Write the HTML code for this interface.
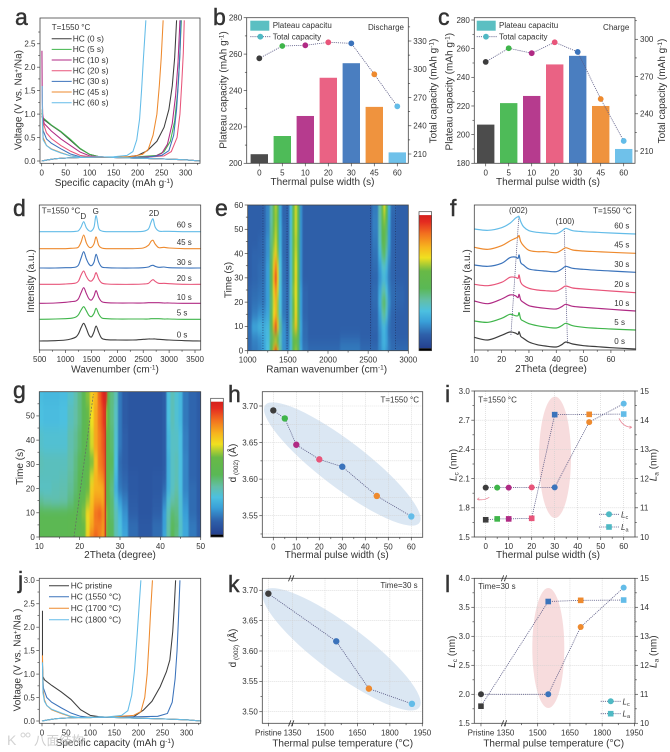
<!DOCTYPE html>
<html lang="en">
<head>
<meta charset="utf-8">
<title>Hard carbon thermal pulse figure</title>
<style>
html,body{margin:0;padding:0;background:#fff;}
svg{display:block;font-family:"Liberation Sans","Noto Sans CJK SC",sans-serif;filter:blur(.35px);}
text{fill:#333;}
.letter{font-size:23px;stroke:#333;stroke-width:.45px;}
.title{font-size:10px;}
.small{font-size:8px;}
.mid{text-anchor:middle;}
.end{text-anchor:end;}
</style>
</head>
<body>
<svg id="figure" width="670" height="752" viewBox="0 0 670 752" xmlns="http://www.w3.org/2000/svg">
  <defs>
    <filter id="heat-blur" x="-10%" y="-25%" width="120%" height="150%" color-interpolation-filters="sRGB"><feGaussianBlur stdDeviation="0.9 5"/></filter>
    <clipPath id="clip-e"><rect x="247.7" y="205" width="160.6" height="145.7"/></clipPath>
    <clipPath id="clip-g"><rect x="39.3" y="391.7" width="161.4" height="145.3"/></clipPath>
  </defs>
  <g id="plots"></g>

  <g>
    <text class="letter" x="15" y="25">a</text>
    <text class="letter" x="213" y="25">b</text>
    <text class="letter" x="438" y="25">c</text>
    <text class="letter" x="13" y="216">d</text>
    <text class="letter" x="215" y="216">e</text>
    <text class="letter" x="450" y="216">f</text>
    <text class="letter" x="13" y="398">g</text>
    <text class="letter" x="228" y="402">h</text>
    <text class="letter" x="445" y="402">i</text>
    <text class="letter" x="18" y="588">j</text>
    <text class="letter" x="228" y="592">k</text>
    <text class="letter" x="445" y="592">l</text>
  </g>

  <g>
    <text class="title mid" x="114" y="186">Specific capacity (mAh g<tspan dy="-3" font-size="6.5">-1</tspan><tspan dy="3">)</tspan></text>
    <text class="title mid" transform="rotate(-90 21.5 100)" x="21.5" y="100">Voltage (V vs. Na<tspan dy="-3" font-size="6.5">+</tspan><tspan dy="3">/Na)</tspan></text>
    <text class="title mid" x="322.5" y="185">Thermal pulse width (s)</text>
    <text class="title mid" transform="rotate(-90 226.7 90)" x="226.7" y="90">Plateau capacity (mAh g<tspan dy="-3" font-size="6.5">-1</tspan><tspan dy="3">)</tspan></text>
    <text class="title mid" transform="rotate(-90 436.7 91)" x="436.7" y="91">Total capacity (mAh g<tspan dy="-3" font-size="6.5">-1</tspan><tspan dy="3">)</tspan></text>
    <text class="title mid" x="548" y="185">Thermal pulse width (s)</text>
    <text class="title mid" transform="rotate(-90 452.3 91.7)" x="452.3" y="91.7">Plateau capacity (mAh g<tspan dy="-3" font-size="6.5">-1</tspan><tspan dy="3">)</tspan></text>
    <text class="title mid" transform="rotate(-90 665 91)" x="665" y="91">Total capacity (mAh g<tspan dy="-3" font-size="6.5">-1</tspan><tspan dy="3">)</tspan></text>
    <text class="title mid" x="115" y="372.7">Wavenumber (cm<tspan dy="-3" font-size="6.5">-1</tspan><tspan dy="3">)</tspan></text>
    <text class="title mid" transform="rotate(-90 34 281)" x="34" y="281">Intensity (a.u.)</text>
    <text class="title mid" x="326.7" y="372.7">Raman wavenumber (cm<tspan dy="-3" font-size="6.5">-1</tspan><tspan dy="3">)</tspan></text>
    <text class="title mid" transform="rotate(-90 231.7 280)" x="231.7" y="280">Time (s)</text>
    <text class="title mid" x="551" y="372">2Theta (degree)</text>
    <text class="title mid" transform="rotate(-90 470 281)" x="470" y="281">Intensity (a.u.)</text>
    <text class="title mid" x="120" y="558">2Theta (degree)</text>
    <text class="title mid" transform="rotate(-90 23 466.7)" x="23" y="466.7">Time (s)</text>
    <text class="title mid" x="336.7" y="558">Thermal pulse width (s)</text>
    <text class="title mid" transform="rotate(-90 236 463)" x="236" y="463">d<tspan dy="2" font-size="6.5"> (002)</tspan><tspan dy="-2"> (Å)</tspan></text>
    <text class="title mid" x="548" y="558">Thermal pulse width (s)</text>
    <text class="title mid" transform="rotate(-90 456.7 465)" x="456.7" y="465"><tspan font-style="italic">L</tspan><tspan dy="2" font-size="6.5">c</tspan><tspan dy="-2"> (nm)</tspan></text>
    <text class="title mid" transform="rotate(-90 656.7 465)" x="656.7" y="465"><tspan font-style="italic">L</tspan><tspan dy="2" font-size="6.5">a</tspan><tspan dy="-2"> (nm)</tspan></text>
    <text class="title mid" x="115" y="746">Specific capacity (mAh g<tspan dy="-3" font-size="6.5">-1</tspan><tspan dy="3">)</tspan></text>
    <text class="title mid" transform="rotate(-90 20.7 660)" x="20.7" y="660">Voltage (V vs. Na<tspan dy="-3" font-size="6.5">+</tspan><tspan dy="3">/Na )</tspan></text>
    <text class="title mid" x="342.7" y="746.7">Thermal pulse temperature (°C)</text>
    <text class="title mid" transform="rotate(-90 236 648)" x="236" y="648">d<tspan dy="2" font-size="6.5"> (002)</tspan><tspan dy="-2"> (Å)</tspan></text>
    <text class="title mid" x="553.7" y="746.7">Thermal pulse temperature (°C)</text>
    <text class="title mid" transform="rotate(-90 455 651.7)" x="455" y="651.7"><tspan font-style="italic">L</tspan><tspan dy="2" font-size="6.5">c</tspan><tspan dy="-2"> (nm)</tspan></text>
    <text class="title mid" transform="rotate(-90 656.7 651.7)" x="656.7" y="651.7"><tspan font-style="italic">L</tspan><tspan dy="2" font-size="6.5">a</tspan><tspan dy="-2"> (nm)</tspan></text>
  </g>

  <g>
    <text class="small" x="51.7" y="30">T=1550 °C</text>
    <text class="small end" x="404" y="30">Discharge</text>
    <text class="small end" x="629.3" y="30">Charge</text>
    <text class="small" x="272.7" y="28">Plateau capacitu</text>
    <text class="small" x="272.7" y="39.5">Total capacity</text>
    <text class="small" x="499" y="28">Plateau capacitu</text>
    <text class="small" x="499" y="39.5">Total capacity</text>
    <text class="small" x="41.7" y="213.3">T=1550 °C</text>
    <text class="small mid" x="83.3" y="219">D</text>
    <text class="small mid" x="95.7" y="214">G</text>
    <text class="small mid" x="154" y="216">2D</text>
    <text class="small mid" x="518.3" y="213">(002)</text>
    <text class="small mid" x="565" y="224">(100)</text>
    <text class="small end" x="631.7" y="213.3">T=1550 °C</text>
    <text class="small end" x="419" y="402.3">T=1550 °C</text>
    <text class="small" x="478.3" y="402.3">T=1550 °C</text>
    <text class="small end" x="417.7" y="588">Time=30 s</text>
    <text class="small" x="478.3" y="589">Time=30 s</text>
    <text class="small" x="621" y="517.3"><tspan font-style="italic">L</tspan><tspan dy="1.5" font-size="5.5">c</tspan></text>
    <text class="small" x="621" y="530"><tspan font-style="italic">L</tspan><tspan dy="1.5" font-size="5.5">a</tspan></text>
    <text class="small" x="622.5" y="704.3"><tspan font-style="italic">L</tspan><tspan dy="1.5" font-size="5.5">c</tspan></text>
    <text class="small" x="622.5" y="716.7"><tspan font-style="italic">L</tspan><tspan dy="1.5" font-size="5.5">a</tspan></text>
    <path d="M489.3 497.3 Q483 501 477.3 499.3" fill="none" stroke="#e98a9a" stroke-width=".8"/>
    <path d="M477.3 499.3l2 -1.6M477.3 499.3l2.2 1" fill="none" stroke="#e98a9a" stroke-width=".8"/>
    <path d="M619 418.3 Q623 427 631.7 427.3" fill="none" stroke="#e98a9a" stroke-width=".8"/>
    <path d="M631.7 427.3l-2.2 -1.4M631.7 427.3l-2.2 1.2" fill="none" stroke="#e98a9a" stroke-width=".8"/>
  </g>

  <g opacity="0.75">
    <text x="7" y="745" font-size="14" style="fill:#c4c4c4">K</text>
    <circle cx="23" cy="735" r="2" fill="none" stroke="#c4c4c4"/>
    <circle cx="28" cy="735" r="2" fill="none" stroke="#c4c4c4"/>
    <text x="34" y="745" font-size="12.5" style="fill:#bdbdbd">八面结构</text>
  </g>
</svg>

<script>
/* ---------- shared categories ---------- */
const pulseCategories = ['0','5','10','20','30','45','60'];
const pulseSeconds = [0,5,10,20,30,45,60];
const pulseSeriesNames = ['0 s','5 s','10 s','20 s','30 s','45 s','60 s'];

/* ---------- panel a: voltage profiles (capacity, volts) ---------- */
const chargeHead = [[0,0],[10,.02],[30,.05],[60,.07],[100,.08]];
const dischargeTail = [[120,.09],[150,.075],[200,.06],[250,.045],[300,.025],[330,0]];
const aDischarge0 = [[0,.95],[5,.88],[20,.76],[40,.62],[60,.44],[80,.26],[100,.14]];
const aDischarge5 = [[0,1.02],[3,.92],[20,.77],[40,.63],[60,.46],[80,.27],[100,.14]];
const aDischarge10 = [[.5,2.35],[1,1.5],[2,1],[5,.8],[20,.64],[40,.47],[60,.33],[80,.19],[100,.11]];
const aDischarge20 = [[1,1.6],[2,.85],[10,.6],[20,.48],[40,.33],[60,.21],[80,.12],[100,.09]];
const aDischarge30 = [[1,1.1],[3,.65],[10,.47],[20,.38],[40,.26],[60,.15],[80,.09],[100,.08]];
const aDischarge45 = [[1,1.1],[3,.5],[10,.33],[20,.26],[40,.18],[60,.11],[80,.08],[100,.08]];
const aDischarge60 = [[1,1.6],[1.5,.8],[3,.45],[10,.33],[20,.25],[40,.17],[60,.11],[80,.08],[100,.08]];
const aCharge0 = [[150,.08],[180,.09],[200,.12],[220,.22],[240,.42],[255,.72],[265,1.1],[272,1.6],[277,2.2],[281,3]];
const aCharge5 = [[150,.08],[200,.09],[240,.12],[255,.2],[268,.42],[277,.85],[283,1.45],[287,2.1],[291,3]];
const aCharge10 = [[150,.08],[200,.08],[235,.1],[250,.16],[262,.36],[272,.8],[279,1.4],[284,2.1],[288,3]];
const aCharge20 = [[150,.08],[220,.08],[255,.11],[270,.2],[282,.5],[288,1],[292,1.7],[295,2.3],[297,3]];
const aCharge30 = [[150,.08],[220,.08],[250,.12],[265,.22],[275,.55],[281,1.1],[285,1.7],[288,2.3],[290,3]];
const aCharge45 = [[150,.08],[185,.09],[210,.14],[222,.25],[232,.55],[240,1],[245,1.6],[249,2.2],[253,3]];
const aCharge60 = [[150,.09],[178,.12],[190,.2],[198,.45],[204,.9],[208,1.5],[212,2.2],[217,3]];
const aXTicks = [0,50,100,150,200,250,300];
const aYTicks = [0,.5,1,1.5,2,2.5];
const aYLabels = ['0.0','0.5','1.0','1.5','2.0','2.5'];

/* ---------- panels b, c: bars and total capacity ---------- */
const bPlateau = [205,215,226,247,255,231,206];
const bTotal = [311.6,324.7,325.4,328.6,327.5,294.6,260.6];
const cPlateau = [207,222,227,249,255,220,190];
const cTotal = [281.8,292.8,288.8,297.6,289.8,251.9,218.1];
const plateauTicks = [200,220,240,260,280];
const cPlateauTicks = [180,200,220,240,260,280];
const bTotalTicks = [210,240,270,300,330];
const cTotalTicks = [210,240,270,300];

/* ---------- panel d: Raman spectra ---------- */
const ramanX = [500,800,1000,1100,1200,1250,1300,1350,1400,1450,1500,1550,1590,1640,1700,1800,2000,2300,2500,2600,2650,2690,2730,2800,2900,3000,3300,3610];
const raman0 = [0,1,3,6,12,22,40,53,38,18,12,28,45,26,8,4,3,3,5,6,6,6,6,5,4,3,1,0];
const raman5 = [0,1,2,3,7,14,28,38,26,12,8,18,33,16,4,2,1,1,1,1,2,2,2,2,1,1,0,0];
const raman10 = [0,1,3,5,7,14,32,47,30,14,10,22,38,18,5,2,1,1,1,2,2,2,2,2,1,1,0,0];
const raman20 = [0,0,1,2,4,10,28,40,24,12,10,20,35,16,4,1,0,0,1,3,10,14,9,3,3,2,0,0];
const raman30 = [0,0,1,1,3,9,30,49,28,12,7,18,41,18,3,1,0,0,1,3,7,8,5,2,3,1,0,0];
const raman45 = [0,0,0,1,2,5,20,41,18,5,4,15,35,10,2,0,0,0,2,10,22,25,14,3,4,2,0,0];
const raman60 = [0,0,0,0,1,3,14,30,12,3,2,14,48,10,2,0,0,0,1,8,28,38,14,2,1,1,0,0];
const ramanOffsets = [27,92,140,197,246,304,355];
const dXTicks = [500,1000,1500,2000,2500,3000,3500];

/* ---------- panel e: Raman heatmap ---------- */
const heatEX = [1000,1100,1150,1200,1250,1300,1325,1350,1375,1400,1450,1500,1540,1570,1600,1630,1660,1700,1800,2000,2300,2500,2600,2650,2680,2700,2730,2760,2800,2900,3000];
const heatET = [0,3,5,10,15,20,25,30,35,40,45,50,55,60];
const heatEValues = [
 [12,14,16,20,28,52,80,100,75,38,18,16,30,52,62,50,24,14,12,12,14,12,12,16,20,22,18,14,12,12,12],
 [12,15,17,22,28,45,62,68,58,34,18,14,26,45,52,42,20,13,11,11,14,11,11,18,24,26,22,15,12,11,11],
 [12,16,18,22,26,42,55,60,52,32,18,14,30,52,58,46,20,12,10,10,11,10,10,16,22,24,20,13,11,10,10],
 [13,22,25,24,26,50,78,92,72,38,18,13,34,60,74,55,22,12,10,10,10,10,11,18,24,26,20,13,11,10,10],
 [11,15,18,18,22,44,68,76,62,30,14,12,32,58,70,52,20,11,10,10,10,10,11,20,34,38,30,15,11,10,10],
 [11,13,14,14,20,42,66,76,62,28,14,12,32,58,68,50,20,11,10,10,10,10,12,24,40,44,34,18,12,11,10],
 [11,12,13,14,20,44,70,82,66,28,14,12,32,60,68,50,20,11,10,10,10,10,12,22,34,36,28,16,12,11,10],
 [10,11,12,13,20,46,76,92,70,30,13,11,30,58,70,48,18,10,10,10,10,10,11,18,24,26,22,14,11,10,10],
 [10,11,12,13,20,44,72,84,66,28,13,11,30,58,68,48,18,10,10,10,10,10,12,20,30,32,26,15,11,10,10],
 [10,11,11,12,18,42,64,72,60,26,12,11,30,58,66,46,18,10,10,10,10,10,13,26,40,44,34,18,11,10,10],
 [10,10,11,12,18,40,60,66,56,24,12,11,30,56,64,46,18,10,10,10,10,10,14,32,48,52,40,20,11,10,10],
 [10,10,10,11,16,38,58,64,54,24,12,11,30,56,66,48,18,10,10,10,10,10,15,34,50,56,42,20,11,10,10],
 [10,10,10,11,16,36,56,62,52,22,11,11,28,54,66,48,18,10,10,10,10,10,15,36,54,62,46,22,11,10,10],
 [10,10,10,11,16,36,56,64,52,22,11,11,28,54,66,48,18,10,10,10,10,10,14,36,56,68,50,24,12,10,10]
];
const eGuideWavenumbers = [1190,1490,2530,2840];
const eXTicks = [1000,1500,2000,2500,3000];
const timeTicks = [0,10,20,30,40,50,60];

/* ---------- panel f: XRD patterns ---------- */
const xrdX = [10,15,20,23,25,26,26.4,27,28,30,33,36,40,42,43.5,46,50,55,60,69];
const xrd0 = [38,30,44,54,51,47,55,41,35,24,16,12,9,16,24,18,13,10,7,3];
const xrd5 = [87,83,95,107,103,103,112,93,87,79,73,69,66,73,80,73,68,65,63,60];
const xrd10 = [147,139,153,165,163,157,167,150,143,133,128,125,123,130,137,131,128,125,122,117];
const xrd20 = [197,193,203,218,218,215,225,203,193,185,180,178,177,185,192,186,183,180,177,172];
const xrd30 = [255,251,260,277,279,275,285,262,255,243,239,237,235,243,251,245,242,239,237,233];
const xrd45 = [308,302,313,327,335,339,343,325,313,299,295,295,292,300,307,300,297,295,293,290];
const xrd60 = [363,359,367,380,395,400,400,385,370,358,353,351,349,357,365,358,355,353,351,348];
const fGuide002 = [[23.4,45],[26.3,400]];
const fGuide100 = [[44.1,20],[42.9,365]];
const fXTicks = [10,20,30,40,50,60];

/* ---------- panel g: XRD heatmap ---------- */
const heatGX = [10,12,14,16,18,19,20,21,22,23,24,25,25.6,26,26.3,26.6,27,28,29,30,31,33,36,40,41,42,43,44,45,46,48,50];
const heatGT = [0,5,10,15,20,25,30,40,50,60];
const heatGValues = [
 [47,47,47,47,48,49,52,58,72,84,88,84,80,78,96,60,50,44,34,30,22,12,8,12,22,36,46,40,30,22,14,10],
 [47,47,47,47,48,49,51,57,67,78,84,84,82,78,95,60,50,44,34,28,20,12,8,12,20,36,44,42,32,22,14,10],
 [46,46,46,46,47,48,50,60,70,76,86,88,84,80,95,62,50,42,34,26,18,10,7,10,20,34,42,40,30,20,12,9],
 [38,36,35,36,40,44,48,52,62,74,80,80,78,78,94,58,50,42,30,20,15,9,7,9,16,30,36,38,30,18,12,9],
 [32,32,34,35,38,42,46,48,58,72,76,76,77,78,94,56,50,40,24,14,12,8,7,8,12,24,32,36,28,16,12,9],
 [33,33,33,34,37,41,45,47,54,66,76,80,82,84,94,56,50,42,26,13,11,8,7,8,10,24,32,34,28,16,11,9],
 [34,33,33,33,36,40,44,46,50,60,74,84,86,88,94,56,50,44,28,12,10,7,7,7,9,24,32,34,28,16,11,9],
 [31,30,30,30,35,38,42,46,52,66,78,84,88,90,95,58,50,42,30,14,10,7,7,7,9,26,32,32,28,15,11,9],
 [28,27,27,28,33,36,40,46,55,68,78,86,90,94,98,62,50,40,32,14,9,7,7,7,9,28,34,30,26,14,11,9],
 [27,26,26,27,31,35,40,46,60,72,76,88,94,98,98,95,50,40,34,14,9,7,7,7,9,28,34,30,26,14,11,9]
];
const gRidge = [[26.4,0],[26.4,60]];
const gGuide = [[18.6,0],[23.4,59]];
const gXTicks = [10,20,30,40,50];
const gYTicks = [0,10,20,30,40,50];

/* ---------- panel h: d-spacing vs pulse width ---------- */
const hDSpacing = [3.694,3.683,3.647,3.627,3.617,3.577,3.549];
const hXTicks = [0,10,20,30,40,50,60];
const hYTicks = [3.55,3.6,3.65,3.7];
const hYLabels = ['3.55','3.60','3.65','3.70'];

/* ---------- panel i: Lc and La vs pulse width ---------- */
const iLc = [2.007,2.007,2.007,2.01,2.01,2.68,2.87];
const iLa = [10.59,10.62,10.62,10.64,14.19,14.2,14.21];
const iLeftTicks = [1.5,1.8,2.1,2.4,2.7,3];
const iLeftLabels = ['1.5','1.8','2.1','2.4','2.7','3.0'];
const rightLaTicks = [10,11,12,13,14,15];

/* ---------- panel j: voltage profiles by temperature ---------- */
const jDischargePristine = [[1,2.35],[1,1.2],[2,.95],[5,.88],[20,.76],[40,.62],[60,.46],[80,.24],[100,.12]];
const jDischarge1550 = [[1,1.1],[3,.7],[10,.5],[20,.4],[40,.28],[60,.17],[80,.1],[100,.08]];
const jDischarge1700 = [[1,1.4],[2,.7],[5,.45],[10,.33],[20,.24],[40,.16],[60,.09],[80,.07],[100,.07]];
const jDischarge1800 = [[1,1.25],[2,.6],[5,.42],[10,.33],[20,.25],[40,.17],[60,.1],[80,.07],[100,.07]];
const jChargePristine = [[150,.08],[190,.09],[210,.23],[228,.42],[245,.73],[258,1.05],[265,1.3],[271,1.9],[274,2.4],[277,3]];
const jCharge1550 = [[150,.08],[240,.1],[260,.16],[270,.4],[276,.9],[280,1.5],[283,2.2],[286,3]];
const jCharge1700 = [[150,.09],[190,.12],[205,.2],[213,.5],[218,1],[222,1.7],[225,2.3],[229,3]];
const jCharge1800 = [[130,.08],[165,.12],[178,.22],[186,.55],[192,1.1],[197,1.8],[201,2.4],[205,3]];
const jYTicks = [0,.5,1,1.5,2,2.5,3];
const jYLabels = ['0.0','0.5','1.0','1.5','2.0','2.5','3.0'];

/* ---------- panels k, l: temperature series ---------- */
const tempTemps = [1238,1552,1703,1902];
const kDSpacing = [3.6945,3.616,3.538,3.513];
const lTemps = [1236,1549,1700,1900];
const lLc = [2,2,3.16,3.84];
const lLa = [10.59,14.2,14.24,14.25];
const tempTicks = [1238,1350,1500,1650,1800,1950];
const tempLabels = ['Pristine','1350','1500','1650','1800','1950'];
const kYTicks = [3.5,3.55,3.6,3.65,3.7];
const kYLabels = ['3.50','3.55','3.60','3.65','3.70'];
const lLeftTicks = [1.5,2,2.5,3,3.5,4];
const lLeftLabels = ['1.5','2.0','2.5','3.0','3.5','4.0'];

/* ---------- style ---------- */
const NS = 'http://www.w3.org/2000/svg';
const COLORS = ['#3d3d3d','#3fb54a','#b02a84','#e8557a','#3b73bb','#ee8a2e','#63bce8'];
const TEMP_COLORS = ['#3d3d3d','#3b73bb','#ee8a2e','#63bce8'];
const LEGEND_TEAL = '#4fb9c4';
const LINK = '#5a5a85';
const HEAT_STOPS = [[0,'#24408f'],[10,'#2e5fa9'],[20,'#399fd8'],[28,'#4cc0e0'],[36,'#63bfa8'],[45,'#5ab855'],[58,'#68b946'],[68,'#f0e020'],[76,'#f7b51e'],[86,'#f2711f'],[95,'#e42b20'],[100,'#d4201c']];

/* ---------- helpers ---------- */
const root = document.getElementById('plots');
function node(parent, tag, attrs, name) {
  const e = document.createElementNS(NS, tag);
  for (const k in attrs) e.setAttribute(k, attrs[k]);
  
  
  parent.appendChild(e);
  return e;
}
function label(parent, x, y, str, anchor, name, size) {
  const t = node(parent, 'text', {x: x, y: y, 'font-size': size || 8, 'text-anchor': anchor}, name);
  t.textContent = str;
  return t;
}
function linear(d0, d1, r0, r1) {
  return v => r0 + (v - d0) * (r1 - r0) / (d1 - d0);
}
function axis(parent, side, pos, scale, major, labels, minor, prefix) {
  const g = node(parent, 'g', {}, prefix + '-axis');
  const tick = (v, len, nm) => {
    const p = scale(v);
    const a = side === 'bottom' ? {x1: p, x2: p, y1: pos, y2: pos + len}
            : side === 'left' ? {x1: pos, x2: pos - len, y1: p, y2: p}
            : {x1: pos, x2: pos + len, y1: p, y2: p};
    a.stroke = '#444'; a['stroke-width'] = .7;
    node(g, 'line', a, nm);
  };
  (minor || []).forEach(v => tick(v, 1.8, prefix + '-minor-tick'));
  major.forEach((v, i) => {
    tick(v, 3, prefix + '-tick');
    const s = labels ? labels[i] : String(v);
    const p = scale(v);
    if (side === 'bottom') label(g, p, pos + 12, s, 'middle', prefix + '-tick-label');
    else if (side === 'left') label(g, pos - 4.5, p + 2.8, s, 'end', prefix + '-tick-label');
    else label(g, pos + 5, p + 2.8, s, 'start', prefix + '-tick-label');
  });
  return g;
}
function frame(parent, x0, y0, x1, y1, name) {
  node(parent, 'rect', {x: x0, y: y0, width: x1 - x0, height: y1 - y0, fill: 'none', stroke: '#444', 'stroke-width': .8}, name);
}
function grid(parent, sx, sy, xs, ys, x0, y0, x1, y1, name) {
  const g = node(parent, 'g', {stroke: '#cfcfcf', 'stroke-width': .6, 'stroke-dasharray': '1 1'}, name);
  xs.forEach(v => node(g, 'line', {x1: sx(v), x2: sx(v), y1: y0, y2: y1}, 'grid-line-vertical'));
  ys.forEach(v => node(g, 'line', {y1: sy(v), y2: sy(v), x1: x0, x2: x1}, 'grid-line-horizontal'));
}
function polyline(parent, pts, sx, sy, attrs, name) {
  const a = Object.assign({fill: 'none', points: pts.map(p => sx(p[0]).toFixed(2) + ',' + sy(p[1]).toFixed(2)).join(' ')}, attrs);
  return node(parent, 'polyline', a, name);
}
/* smooth path through every data point (Catmull-Rom rendered as cubic Beziers) */
function smoothLine(parent, pts, sx, sy, attrs, name) {
  const P = pts.map(p => [sx(p[0]), sy(p[1])]);
  let d = 'M' + P[0][0].toFixed(2) + ' ' + P[0][1].toFixed(2);
  for (let i = 0; i < P.length - 1; i++) {
    const a = P[Math.max(i - 1, 0)], b = P[i], c = P[i + 1], e = P[Math.min(i + 2, P.length - 1)];
    const c1x = b[0] + (c[0] - a[0]) / 6, c1y = b[1] + (c[1] - a[1]) / 6;
    const c2x = c[0] - (e[0] - b[0]) / 6, c2y = c[1] - (e[1] - b[1]) / 6;
    d += 'C' + c1x.toFixed(2) + ' ' + c1y.toFixed(2) + ' ' + c2x.toFixed(2) + ' ' + c2y.toFixed(2) + ' ' + c[0].toFixed(2) + ' ' + c[1].toFixed(2);
  }
  return node(parent, 'path', Object.assign({fill: 'none', d: d}, attrs), name);
}
function dotted(parent, pts, sx, sy, name) {
  return polyline(parent, pts, sx, sy, {stroke: LINK, 'stroke-width': .8, 'stroke-dasharray': '1.1 1'}, name);
}
function zip(a, b) { return a.map((v, i) => [v, b[i]]); }
function hexRgb(h) { return [1, 3, 5].map(i => parseInt(h.substr(i, 2), 16)); }
function heatColor(v) {
  for (let i = 1; i < HEAT_STOPS.length; i++) {
    if (v <= HEAT_STOPS[i][0]) {
      const f = (v - HEAT_STOPS[i - 1][0]) / (HEAT_STOPS[i][0] - HEAT_STOPS[i - 1][0]);
      const a = hexRgb(HEAT_STOPS[i - 1][1]), b = hexRgb(HEAT_STOPS[i][1]);
      return 'rgb(' + a.map((c, k) => Math.round(c + (b[k] - c) * f)).join(',') + ')';
    }
  }
  return HEAT_STOPS[HEAT_STOPS.length - 1][1];
}
function heatmap(parent, xs, ts, values, sx, sy, clip, name) {
  const clipped = node(parent, 'g', {'clip-path': 'url(#' + clip + ')'}, name + '-clip');
  const blurred = node(clipped, 'g', {filter: 'url(#heat-blur)'}, name + '-cells');
  ts.forEach((t, j) => {
    const yTop = j === ts.length - 1 ? sy(t) - 30 : sy((t + ts[j + 1]) / 2);
    const yBot = j === 0 ? sy(t) + 30 : sy((t + ts[j - 1]) / 2);
    xs.forEach((x, i) => {
      const xL = i === 0 ? sx(x) - 12 : sx((x + xs[i - 1]) / 2);
      const xR = i === xs.length - 1 ? sx(x) + 12 : sx((x + xs[i + 1]) / 2);
      node(blurred, 'rect', {x: xL, y: yTop, width: xR - xL + .4, height: yBot - yTop + .4, fill: heatColor(values[j][i])}, name + '-cell');
    });
  });
}
function colorbar(parent, x, y0, y1, id, name) {
  const defs = node(parent, 'defs', {}, name + '-defs');
  const grad = node(defs, 'linearGradient', {id: id, x1: 0, y1: 1, x2: 0, y2: 0}, name + '-gradient');
  HEAT_STOPS.forEach(s => node(grad, 'stop', {offset: s[0] + '%', 'stop-color': s[1]}, name + '-stop'));
  const w = 12.6, cap = 3.4;
  node(parent, 'rect', {x: x, y: y0, width: w, height: cap, fill: '#fff'}, name + '-top-cap');
  node(parent, 'rect', {x: x, y: y0 + cap, width: w, height: y1 - y0 - cap - 2.4, fill: 'url(#' + id + ')'}, name + '-ramp');
  node(parent, 'rect', {x: x, y: y1 - 2.4, width: w, height: 2.4, fill: '#000'}, name + '-bottom-cap');
  node(parent, 'rect', {x: x, y: y0, width: w, height: y1 - y0, fill: 'none', stroke: '#444', 'stroke-width': .7}, name + '-outline');
}

/* ---------- panel a ---------- */
(function () {
  const g = node(root, 'g', {}, 'panel-a');
  const sx = linear(0, 300, 41.7, 185.7), sy = linear(0, 3, 161, 20.3);
  const discharge = [aDischarge0, aDischarge5, aDischarge10, aDischarge20, aDischarge30, aDischarge45, aDischarge60];
  const charge = [aCharge0, aCharge5, aCharge10, aCharge20, aCharge30, aCharge45, aCharge60];
  axis(g, 'bottom', 163.3, sx, aXTicks, null, [25,75,125,175,225,275,325], 'a-x');
  axis(g, 'left', 40, sy, aYTicks, aYLabels, [.25,.75,1.25,1.75,2.25,2.75], 'a-y');
  discharge.forEach((d, i) => {
    polyline(g, d.concat(dischargeTail), sx, sy, {stroke: COLORS[i], 'stroke-width': 1.05}, 'a-discharge-' + pulseCategories[i] + 's');
    polyline(g, chargeHead.concat(charge[i]), sx, sy, {stroke: COLORS[i], 'stroke-width': 1.05}, 'a-charge-' + pulseCategories[i] + 's');
    const ly = 38.7 + i * 10.67;
    node(g, 'line', {x1: 51.7, x2: 71.7, y1: ly, y2: ly, stroke: COLORS[i], 'stroke-width': 1}, 'a-legend-line');
    label(g, 72.7, ly + 2.8, 'HC (' + pulseSeriesNames[i] + ')', 'start', 'a-legend-label', 8.4);
  });
  frame(g, 40, 18, 200, 163.3, 'a-frame');
})();

/* ---------- panels b and c ---------- */
function barPanel(prefix, left, right, firstCenter, sy, sr, plateau, total, leftTicks, rightTicks, rightMinor, leftMinor, swatchX, legendDot) {
  const g = node(root, 'g', {}, 'panel-' + prefix);
  const top = 17.7, bottom = 163.3;
  const sx = i => firstCenter + i * 23;
  plateau.forEach((v, i) => node(g, 'rect', {x: sx(i) - 8.7, y: sy(v), width: 17.4, height: bottom - sy(v), fill: COLORS[i], opacity: .92}, prefix + '-bar-' + pulseCategories[i] + 's'));
  dotted(g, total.map((v, i) => [i, v]), sx, sr, prefix + '-total-capacity-line');
  total.forEach((v, i) => node(g, 'circle', {cx: sx(i), cy: sr(v), r: 2.9, fill: COLORS[i]}, prefix + '-total-point-' + pulseCategories[i] + 's'));
  axis(g, 'bottom', bottom, sx, pulseCategories.map((c, i) => i), pulseCategories, [], prefix + '-x');
  axis(g, 'left', left, sy, leftTicks, null, leftMinor, prefix + '-left-y');
  axis(g, 'right', right, sr, rightTicks, null, rightMinor, prefix + '-right-y');
  node(g, 'rect', {x: swatchX, y: 20.7, width: 19, height: 10, fill: '#5bbfc2'}, prefix + '-legend-swatch');
  node(g, 'line', {x1: swatchX, x2: swatchX + 20.5, y1: 36.7, y2: 36.7, stroke: LINK, 'stroke-width': .8, 'stroke-dasharray': '1.1 1'}, prefix + '-legend-line');
  node(g, 'circle', {cx: legendDot, cy: 36.7, r: 2.9, fill: LEGEND_TEAL}, prefix + '-legend-dot');
  frame(g, left, top, right, bottom, prefix + '-frame');
}
barPanel('b', 246.7, 408.3, 259.3, linear(200, 280, 163.3, 17.7), linear(210, 330, 154, 41), bPlateau, bTotal, plateauTicks, bTotalTicks, [225,255,285,315,345], [210,230,250,270], 250.3, 260.3);
barPanel('c', 474.3, 635, 485.7, linear(180, 280, 163.3, 20), linear(210, 300, 151, 39.3), cPlateau, cTotal, cPlateauTicks, cTotalTicks, [225,255,285,315], [190,210,230,250,270], 476.7, 486);

/* ---------- panel d ---------- */
(function () {
  const g = node(root, 'g', {}, 'panel-d');
  const sx = linear(500, 3500, 39.7, 195), sy = linear(0, 435, 350, 205);
  const series = [raman0, raman5, raman10, raman20, raman30, raman45, raman60];
  const labelY = [337.3,315.7,300,281,265,245,227.7];
  axis(g, 'bottom', 350, sx, dXTicks, null, [750,1250,1750,2250,2750,3250], 'd-x');
  series.forEach((s, i) => {
    smoothLine(g, ramanX.map((x, k) => [x, s[k] + ramanOffsets[i]]), sx, sy, {stroke: COLORS[i], 'stroke-width': 1.1}, 'd-spectrum-' + pulseCategories[i] + 's');
    label(g, 176.7, labelY[i], pulseSeriesNames[i], 'start', 'd-series-label');
  });
  frame(g, 39.3, 205, 200.7, 350, 'd-frame');
})();

/* ---------- panel e ---------- */
(function () {
  const g = node(root, 'g', {}, 'panel-e');
  const sx = linear(1000, 3000, 247.7, 408.3), sy = linear(0, 60, 350.7, 205);
  heatmap(g, heatEX, heatET, heatEValues, sx, sy, 'clip-e', 'e-heatmap');
  eGuideWavenumbers.forEach(w => node(g, 'line', {x1: sx(w), x2: sx(w), y1: 205, y2: 350.7, stroke: '#1f2f60', 'stroke-width': .7, 'stroke-dasharray': '1 1.6'}, 'e-guide-line'));
  axis(g, 'bottom', 350.7, sx, eXTicks, null, [1250,1750,2250,2750], 'e-x');
  axis(g, 'left', 247.7, sy, timeTicks, null, [5,15,25,35,45,55], 'e-y');
  frame(g, 247.7, 205, 408.3, 350.7, 'e-frame');
  colorbar(g, 419, 211.7, 350.7, 'grad-e', 'e-colorbar');
})();

/* ---------- panel f ---------- */
(function () {
  const g = node(root, 'g', {}, 'panel-f');
  const sx = linear(10, 69, 474.3, 635.5), sy = linear(0, 435, 350, 205);
  const series = [xrd0, xrd5, xrd10, xrd20, xrd30, xrd45, xrd60];
  const labelY = [344,325,306,287,267,247.7,228.3];
  axis(g, 'bottom', 350, sx, fXTicks, null, [15,25,35,45,55,65], 'f-x');
  dotted(g, fGuide002, sx, sy, 'f-guide-002');
  dotted(g, fGuide100, sx, sy, 'f-guide-100');
  series.forEach((s, i) => {
    smoothLine(g, zip(xrdX, s), sx, sy, {stroke: COLORS[i], 'stroke-width': 1.2}, 'f-pattern-' + pulseCategories[i] + 's');
    label(g, 614.3, labelY[i], pulseSeriesNames[i], 'start', 'f-series-label');
  });
  frame(g, 474.3, 205, 635.7, 350, 'f-frame');
})();

/* ---------- panel g ---------- */
(function () {
  const g = node(root, 'g', {}, 'panel-g');
  const sx = linear(10, 50, 39.3, 200.7), sy = linear(0, 60, 537, 391.7);
  heatmap(g, heatGX, heatGT, heatGValues, sx, sy, 'clip-g', 'g-heatmap');
  polyline(g, gRidge, sx, sy, {stroke: '#c9302a', 'stroke-width': .8}, 'g-ridge-line');
  polyline(g, gGuide, sx, sy, {stroke: '#666', 'stroke-width': .7, 'stroke-dasharray': '2 1.5'}, 'g-guide-line');
  axis(g, 'bottom', 537, sx, gXTicks, null, [15,25,35,45], 'g-x');
  axis(g, 'left', 39.3, sy, gYTicks, null, [5,15,25,35,45,55], 'g-y');
  frame(g, 39.3, 391.7, 200.7, 537, 'g-frame');
  colorbar(g, 210.7, 398.3, 537, 'grad-g', 'g-colorbar');
})();

/* ---------- panel h ---------- */
(function () {
  const g = node(root, 'g', {}, 'panel-h');
  const sx = linear(0, 60, 273.3, 411.3), sy = linear(3.55, 3.7, 515.7, 406);
  node(g, 'ellipse', {cx: 342.3, cy: 464, rx: 97, ry: 23, fill: '#dbe7f3', transform: 'rotate(37.4 342.3 464)'}, 'h-trend-ellipse');
  grid(g, sx, sy, hXTicks, hYTicks.concat([3.525,3.575,3.625,3.675]), 262.3, 391.7, 422.7, 537.3, 'h-grid');
  dotted(g, zip(pulseSeconds, hDSpacing), sx, sy, 'h-line');
  hDSpacing.forEach((v, i) => node(g, 'circle', {cx: sx(pulseSeconds[i]), cy: sy(v), r: 3.2, fill: COLORS[i]}, 'h-point-' + pulseCategories[i] + 's'));
  axis(g, 'bottom', 537.3, sx, hXTicks, null, [5,15,25,35,45,55], 'h-x');
  axis(g, 'left', 262.3, sy, hYTicks, hYLabels, [3.525,3.575,3.625,3.675], 'h-y');
  frame(g, 262.3, 391.7, 422.7, 537.3, 'h-frame');
})();

/* ---------- panel i ---------- */
(function () {
  const g = node(root, 'g', {}, 'panel-i');
  const sx = linear(0, 60, 485.7, 623.7), sy = linear(1.5, 3, 537, 391), sr = linear(10, 15, 537, 391);
  node(g, 'ellipse', {cx: 555, cy: 457.3, rx: 16, ry: 60.7, fill: '#f7dcdd'}, 'i-highlight-ellipse');
  grid(g, sx, sy, [0,10,20,30,40,50,60], iLeftTicks, 474.3, 391, 635, 537, 'i-grid');
  dotted(g, zip(pulseSeconds, iLc), sx, sy, 'i-lc-line');
  dotted(g, zip(pulseSeconds, iLa), sx, sr, 'i-la-line');
  iLc.forEach((v, i) => node(g, 'circle', {cx: sx(pulseSeconds[i]), cy: sy(v), r: 3, fill: COLORS[i]}, 'i-lc-point-' + pulseCategories[i] + 's'));
  iLa.forEach((v, i) => node(g, 'rect', {x: sx(pulseSeconds[i]) - 2.8, y: sr(v) - 2.8, width: 5.6, height: 5.6, fill: COLORS[i]}, 'i-la-point-' + pulseCategories[i] + 's'));
  axis(g, 'bottom', 537, sx, [0,10,20,30,40,50,60], null, [5,15,25,35,45,55], 'i-x');
  axis(g, 'left', 474.3, sy, iLeftTicks, iLeftLabels, [1.65,1.95,2.25,2.55,2.85], 'i-left-y');
  axis(g, 'right', 635, sr, rightLaTicks, null, [10.5,11.5,12.5,13.5,14.5], 'i-right-y');
  node(g, 'line', {x1: 599, x2: 619, y1: 514.3, y2: 514.3, stroke: LINK, 'stroke-width': .8, 'stroke-dasharray': '1.1 1'}, 'i-legend-lc-line');
  node(g, 'circle', {cx: 609, cy: 514.3, r: 3, fill: LEGEND_TEAL}, 'i-legend-lc-marker');
  node(g, 'line', {x1: 599, x2: 619, y1: 527, y2: 527, stroke: LINK, 'stroke-width': .8, 'stroke-dasharray': '1.1 1'}, 'i-legend-la-line');
  node(g, 'rect', {x: 606.2, y: 524.2, width: 5.6, height: 5.6, fill: LEGEND_TEAL}, 'i-legend-la-marker');
  frame(g, 474.3, 391, 635, 537, 'i-frame');
})();

/* ---------- panel j ---------- */
(function () {
  const g = node(root, 'g', {}, 'panel-j');
  const sx = linear(0, 300, 42, 186.7), sy = linear(0, 3, 721, 580.3);
  const names = ['HC pristine','HC (1550 °C)','HC (1700 °C)','HC (1800 °C)'];
  const legendY = [585.7,596.7,608.3,619.7];
  const discharge = [jDischargePristine, jDischarge1550, jDischarge1700, jDischarge1800];
  const charge = [jChargePristine, jCharge1550, jCharge1700, jCharge1800];
  axis(g, 'bottom', 723.3, sx, aXTicks, null, [25,75,125,175,225,275,325], 'j-x');
  axis(g, 'left', 39.3, sy, jYTicks, jYLabels, [.25,.75,1.25,1.75,2.25,2.75], 'j-y');
  discharge.forEach((d, i) => {
    polyline(g, d.concat(dischargeTail), sx, sy, {stroke: TEMP_COLORS[i], 'stroke-width': 1.05}, 'j-discharge-' + i);
    polyline(g, chargeHead.concat(charge[i]), sx, sy, {stroke: TEMP_COLORS[i], 'stroke-width': 1.05}, 'j-charge-' + i);
    node(g, 'line', {x1: 49, x2: 69, y1: legendY[i], y2: legendY[i], stroke: TEMP_COLORS[i], 'stroke-width': 1}, 'j-legend-line');
    label(g, 70.7, legendY[i] + 2.8, names[i], 'start', 'j-legend-label', 8.4);
  });
  frame(g, 39.3, 578.3, 200.7, 723.3, 'j-frame');
})();

/* ---------- axis breaks ---------- */
function breakMark(parent, x, y, name) {
  node(parent, 'path', {d: 'M' + (x - 3) + ' ' + (y + 3) + 'l2.4 -6M' + (x) + ' ' + (y + 3) + 'l2.4 -6', stroke: '#333', 'stroke-width': .8, fill: 'none'}, name);
}

/* ---------- panel k ---------- */
(function () {
  const g = node(root, 'g', {}, 'panel-k');
  const sx = linear(1500, 1650, 325, 357.43), sy = linear(3.5, 3.7, 711.7, 590.3);
  node(g, 'ellipse', {cx: 341.7, cy: 649.3, rx: 97, ry: 24, fill: '#dbe7f3', transform: 'rotate(36.8 341.7 649.3)'}, 'k-trend-ellipse');
  grid(g, sx, sy, tempTicks, kYTicks, 262.3, 578.3, 422.7, 723.3, 'k-grid');
  dotted(g, zip(tempTemps, kDSpacing), sx, sy, 'k-line');
  kDSpacing.forEach((v, i) => node(g, 'circle', {cx: sx(tempTemps[i]), cy: sy(v), r: 3.2, fill: TEMP_COLORS[i]}, 'k-point-' + i));
  axis(g, 'bottom', 723.3, sx, tempTicks, tempLabels, [1425,1575,1725,1875], 'k-x');
  axis(g, 'left', 262.3, sy, kYTicks, kYLabels, [3.525,3.575,3.625,3.675], 'k-y');
  frame(g, 262.3, 578.3, 422.7, 723.3, 'k-frame');
  breakMark(g, 291.5, 578.3, 'k-top-axis-break');
  breakMark(g, 291.5, 723.3, 'k-bottom-axis-break');
})();

/* ---------- panel l ---------- */
(function () {
  const g = node(root, 'g', {}, 'panel-l');
  const sx = linear(1500, 1950, 537.7, 634.4), sy = linear(1.5, 4, 723.3, 578.3), sr = linear(10, 15, 723.3, 578.3);
  node(g, 'ellipse', {cx: 548.3, cy: 648, rx: 16, ry: 60, fill: '#f7dcdd'}, 'l-highlight-ellipse');
  grid(g, sx, sy, tempTicks, lLeftTicks, 474.3, 578.3, 635, 723.3, 'l-grid');
  dotted(g, zip(lTemps, lLc), sx, sy, 'l-lc-line');
  dotted(g, zip(lTemps, lLa), sx, sr, 'l-la-line');
  lLc.forEach((v, i) => node(g, 'circle', {cx: sx(lTemps[i]), cy: sy(v), r: 3, fill: TEMP_COLORS[i]}, 'l-lc-point-' + i));
  lLa.forEach((v, i) => node(g, 'rect', {x: sx(lTemps[i]) - 2.8, y: sr(v) - 2.8, width: 5.6, height: 5.6, fill: TEMP_COLORS[i]}, 'l-la-point-' + i));
  axis(g, 'bottom', 723.3, sx, [1236,1350,1500,1650,1800,1950], tempLabels, [1425,1575,1725,1875], 'l-x');
  axis(g, 'left', 474.3, sy, lLeftTicks, lLeftLabels, [1.75,2.25,2.75,3.25,3.75], 'l-left-y');
  axis(g, 'right', 635, sr, rightLaTicks, null, [10.5,11.5,12.5,13.5,14.5], 'l-right-y');
  node(g, 'line', {x1: 600.7, x2: 620.7, y1: 701.3, y2: 701.3, stroke: LINK, 'stroke-width': .8, 'stroke-dasharray': '1.1 1'}, 'l-legend-lc-line');
  node(g, 'circle', {cx: 610.7, cy: 701.3, r: 3, fill: LEGEND_TEAL}, 'l-legend-lc-marker');
  node(g, 'line', {x1: 600.7, x2: 620.7, y1: 713.7, y2: 713.7, stroke: LINK, 'stroke-width': .8, 'stroke-dasharray': '1.1 1'}, 'l-legend-la-line');
  node(g, 'rect', {x: 607.9, y: 710.9, width: 5.6, height: 5.6, fill: LEGEND_TEAL}, 'l-legend-la-marker');
  frame(g, 474.3, 578.3, 635, 723.3, 'l-frame');
  breakMark(g, 504.3, 578.3, 'l-top-axis-break');
  breakMark(g, 504.3, 723.3, 'l-bottom-axis-break');
})();
</script>
</body>
</html>
